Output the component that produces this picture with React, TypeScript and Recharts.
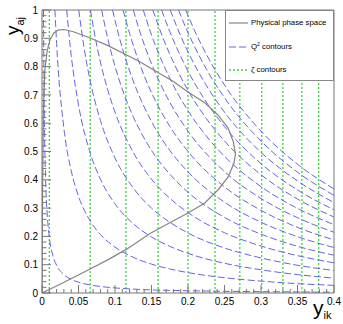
import React from 'react';
import { LineChart, Line, XAxis, YAxis, ReferenceLine } from 'recharts';

// ---- axis ticks / labels ----
const xMajorTicks = [0, 0.05, 0.1, 0.15, 0.2, 0.25, 0.3, 0.35, 0.4];
const xTickLabels = ['0', '0.05', '0.1', '0.15', '0.2', '0.25', '0.3', '0.35', '0.4'];
const yMajorTicks = [0, 0.1, 0.2, 0.3, 0.4, 0.5, 0.6, 0.7, 0.8, 0.9, 1];
const yTickLabels = ['0', '0.1', '0.2', '0.3', '0.4', '0.5', '0.6', '0.7', '0.8', '0.9', '1'];
const xAllTicks = Array.from({ length: 41 }, (_, i) => i / 100);
const yAllTicks = Array.from({ length: 51 }, (_, i) => i / 50);

// ---- series names ----
const phaseName = 'Physical phase space';
const q2Name = 'contours';
const zetaName = 'ζ contours';

// ---- zeta contours (vertical lines, y_ik values) ----
const zetaValues = [0.01, 0.066, 0.115, 0.159, 0.2, 0.237, 0.271, 0.301, 0.33, 0.356, 0.379];

// ---- physical phase space boundary (y_ik, y_aj) ----
const phaseSpace: [number, number][] = [
  [0, 0], [0.0003, 0.15], [0.0008, 0.35], [0.0015, 0.55], [0.0025, 0.7], [0.004, 0.79],
  [0.007, 0.855], [0.011, 0.895], [0.016, 0.918], [0.022, 0.929], [0.03, 0.931],
  [0.043, 0.923], [0.066, 0.901], [0.089, 0.876], [0.116, 0.841], [0.134, 0.817],
  [0.157, 0.782], [0.18, 0.747], [0.2, 0.71], [0.223, 0.672], [0.241, 0.629],
  [0.255, 0.583], [0.262, 0.535], [0.265, 0.49], [0.263, 0.459], [0.255, 0.41],
  [0.241, 0.364], [0.223, 0.318], [0.2, 0.283], [0.175, 0.248], [0.148, 0.21],
  [0.116, 0.155], [0.09, 0.117], [0.066, 0.085], [0.041, 0.052], [0.02, 0.025],
  [0.007, 0.009], [0, 0],
];

// ---- Q^2 contours (y_ik, y_aj) ----
const q2Contour01: [number, number][] = [
  [0.002, 1], [0.003, 0.665], [0.005, 0.398], [0.0075, 0.265], [0.01, 0.198], [0.015, 0.131],
  [0.02, 0.098], [0.03, 0.065], [0.04, 0.048], [0.05, 0.038], [0.065, 0.029], [0.08, 0.023],
  [0.1, 0.018], [0.15, 0.011], [0.2, 0.008], [0.3, 0.0047], [0.4, 0.003],
];
const q2Contour02: [number, number][] = [
  [0.0177, 1], [0.02, 0.882], [0.03, 0.582], [0.04, 0.432], [0.05, 0.342], [0.065, 0.259],
  [0.08, 0.207], [0.1, 0.162], [0.125, 0.126], [0.15, 0.102], [0.175, 0.085], [0.2, 0.072],
  [0.25, 0.054], [0.3, 0.042], [0.35, 0.033], [0.4, 0.027],
];
const q2Contour03: [number, number][] = [
  [0.0338, 1], [0.04, 0.84], [0.05, 0.665], [0.065, 0.503], [0.08, 0.4025], [0.1, 0.315],
  [0.125, 0.245], [0.15, 0.198], [0.175, 0.165], [0.2, 0.14], [0.25, 0.105], [0.3, 0.082],
  [0.35, 0.065], [0.4, 0.0525],
];
const q2Contour04: [number, number][] = [
  [0.0503, 1], [0.057, 0.877], [0.065, 0.762], [0.08, 0.61], [0.1, 0.477], [0.125, 0.371],
  [0.15, 0.3], [0.175, 0.25], [0.2, 0.212], [0.25, 0.159], [0.3, 0.124], [0.35, 0.098],
  [0.4, 0.0795],
];
const q2Contour05: [number, number][] = [
  [0.0663, 1], [0.073, 0.902], [0.08, 0.816], [0.09, 0.718], [0.1, 0.639], [0.125, 0.497],
  [0.15, 0.402], [0.175, 0.335], [0.2, 0.284], [0.25, 0.213], [0.3, 0.166], [0.35, 0.132],
  [0.4, 0.1065],
];
const q2Contour06: [number, number][] = [
  [0.0817, 1], [0.09, 0.9], [0.1, 0.801], [0.115, 0.685], [0.125, 0.623], [0.15, 0.504],
  [0.175, 0.42], [0.2, 0.356], [0.25, 0.267], [0.3, 0.208], [0.35, 0.165], [0.4, 0.1335],
];
const q2Contour07: [number, number][] = [
  [0.0967, 1], [0.105, 0.912], [0.115, 0.823], [0.125, 0.749], [0.15, 0.606], [0.175, 0.504],
  [0.2, 0.428], [0.25, 0.321], [0.3, 0.25], [0.35, 0.199], [0.4, 0.1605],
];
const q2Contour08: [number, number][] = [
  [0.1111, 1], [0.12, 0.917], [0.135, 0.801], [0.15, 0.708], [0.175, 0.589], [0.2, 0.5],
  [0.25, 0.375], [0.3, 0.292], [0.35, 0.232], [0.4, 0.1875],
];
const q2Contour09: [number, number][] = [
  [0.1251, 1], [0.135, 0.916], [0.15, 0.81], [0.165, 0.724], [0.175, 0.674], [0.2, 0.572],
  [0.25, 0.429], [0.3, 0.334], [0.35, 0.266], [0.4, 0.2145],
];
const q2Contour10: [number, number][] = [
  [0.1387, 1], [0.15, 0.912], [0.165, 0.815], [0.175, 0.759], [0.2, 0.644], [0.225, 0.555],
  [0.25, 0.483], [0.3, 0.376], [0.35, 0.299], [0.4, 0.2415],
];
const q2Contour11: [number, number][] = [
  [0.1518, 1], [0.165, 0.906], [0.175, 0.844], [0.2, 0.716], [0.225, 0.617], [0.25, 0.537],
  [0.3, 0.418], [0.35, 0.332], [0.4, 0.2685],
];
const q2Contour12: [number, number][] = [
  [0.1639, 1], [0.175, 0.924], [0.19, 0.836], [0.2, 0.784], [0.225, 0.675], [0.25, 0.588],
  [0.3, 0.457], [0.35, 0.364], [0.4, 0.294],
];
const q2Contour13: [number, number][] = [
  [0.1756, 1], [0.19, 0.908], [0.2, 0.852], [0.225, 0.734], [0.25, 0.639], [0.3, 0.497],
  [0.35, 0.396], [0.4, 0.3195],
];
const q2Contour14: [number, number][] = [
  [0.187, 1], [0.2, 0.92], [0.215, 0.84], [0.225, 0.792], [0.25, 0.69], [0.3, 0.537],
  [0.35, 0.427], [0.4, 0.345],
];
const q2Contour15: [number, number][] = [
  [0.1968, 1], [0.21, 0.922], [0.225, 0.844], [0.25, 0.735], [0.3, 0.572], [0.35, 0.455],
  [0.4, 0.3675],
];

const q2Contours = [
  q2Contour01, q2Contour02, q2Contour03, q2Contour04, q2Contour05, q2Contour06, q2Contour07,
  q2Contour08, q2Contour09, q2Contour10, q2Contour11, q2Contour12, q2Contour13, q2Contour14,
  q2Contour15,
];

const toPoints = (pairs: [number, number][]) => pairs.map(([x, y]) => ({ x, y }));

const FONT = '"Liberation Sans", Arial, Helvetica, sans-serif';
const AXIS = '#777777';
const BLUE = '#6464e6';
const GREEN = '#3cd83c';
const GREY = '#858585';

const XTick = (props: any) => {
  const { x, y, payload } = props;
  const v = payload.value;
  const idx = xMajorTicks.findIndex((t) => Math.abs(t - v) < 1e-6);
  const major = idx >= 0;
  return (
    <g>
      <line x1={x} y1={y} x2={x} y2={y - (major ? 8 : 4)} stroke={AXIS} strokeWidth={1} />
      {major && (
        <text x={x} y={y + 12} textAnchor="middle" fontSize={10} fontFamily={FONT} fill="#000">
          {xTickLabels[idx]}
        </text>
      )}
    </g>
  );
};

const YTick = (props: any) => {
  const { x, y, payload } = props;
  const v = payload.value;
  const idx = yMajorTicks.findIndex((t) => Math.abs(t - v) < 1e-6);
  const major = idx >= 0;
  return (
    <g>
      <line x1={x} y1={y} x2={x + (major ? 9 : 4.5)} y2={y} stroke={AXIS} strokeWidth={1} />
      {major && (
        <text x={x - 4} y={y + 3.6} textAnchor="end" fontSize={10} fontFamily={FONT} fill="#000">
          {yTickLabels[idx]}
        </text>
      )}
    </g>
  );
};

export default function App() {
  return (
    <div style={{ position: 'absolute', left: 0, top: 0, width: 343, height: 324, background: '#fff' }}>
      <div style={{ position: 'absolute', left: 0, top: 0 }}>
        <LineChart width={343} height={324} margin={{ top: 10, right: 9, bottom: 6, left: 2 }}>
          <XAxis
            dataKey="x"
            type="number"
            domain={[0, 0.4]}
            ticks={xAllTicks}
            interval={0}
            tick={<XTick />}
            tickLine={false}
            tickSize={0}
            tickMargin={0}
            height={25}
            axisLine={{ stroke: AXIS }}
            allowDataOverflow
          />
          <YAxis
            dataKey="y"
            type="number"
            domain={[0, 1]}
            ticks={yAllTicks}
            interval={0}
            tick={<YTick />}
            tickLine={false}
            tickSize={0}
            tickMargin={0}
            width={40}
            axisLine={{ stroke: AXIS }}
            allowDataOverflow
          />
          <ReferenceLine y={1} stroke={AXIS} strokeWidth={1} />
          <ReferenceLine x={0.4} stroke={AXIS} strokeWidth={1} />
          {zetaValues.map((z, i) => (
            <ReferenceLine
              key={'z' + i}
              x={z}
              stroke={GREEN}
              strokeWidth={1.3}
              strokeDasharray="2 2"
            />
          ))}
          {q2Contours.map((c, i) => (
            <Line
              key={'q' + i}
              name={q2Name}
              data={toPoints(c)}
              dataKey="y"
              type="monotone"
              stroke={BLUE}
              strokeWidth={1}
              strokeDasharray="7 3"
              dot={false}
              activeDot={false}
              isAnimationActive={false}
            />
          ))}
          <Line
            name={phaseName}
            data={toPoints(phaseSpace)}
            dataKey="y"
            type="linear"
            stroke={GREY}
            strokeWidth={1.2}
            dot={false}
            activeDot={false}
            isAnimationActive={false}
          />
        </LineChart>
      </div>

      {/* axis titles */}
      <svg
        width={343}
        height={324}
        style={{ position: 'absolute', left: 0, top: 0, pointerEvents: 'none' }}
      >
        <text transform="translate(19,35) rotate(-90)" fontFamily={FONT} fontSize={19} fill="#000">
          y
          <tspan fontSize={11} dy={5}>aj</tspan>
        </text>
        <text x={313} y={315} fontFamily={FONT} fontSize={21} fill="#000">
          y
          <tspan fontSize={11} dy={4}>ik</tspan>
        </text>
      </svg>

      {/* legend */}
      <div
        style={{
          position: 'absolute',
          left: 225,
          top: 10,
          width: 109,
          height: 71,
          background: '#fff',
          border: '1px solid #888',
          boxSizing: 'border-box',
          fontFamily: FONT,
          fontSize: 7.8,
          color: '#000',
        }}
      >
        {[
          { label: <span>{phaseName}</span>, stroke: GREY, dash: undefined as string | undefined, w: 1.2, top: 12 },
          {
            label: (
              <span>
                Q<span style={{ fontSize: 5, position: 'relative', top: -3 }}>2</span> {q2Name}
              </span>
            ),
            stroke: BLUE,
            dash: '7 3',
            w: 1,
            top: 35.5,
          },
          { label: <span>{zetaName}</span>, stroke: GREEN, dash: '2 2', w: 1.3, top: 59 },
        ].map((row, i) => (
          <div key={i} style={{ position: 'absolute', left: 0, top: row.top - 6, height: 12, width: 107 }}>
            <svg width={22} height={12} style={{ position: 'absolute', left: 3, top: 0 }}>
              <line x1={0} y1={6} x2={19} y2={6} stroke={row.stroke} strokeWidth={row.w} strokeDasharray={row.dash} />
            </svg>
            <div style={{ position: 'absolute', left: 25, top: 0, lineHeight: '12px', whiteSpace: 'nowrap' }}>
              {row.label}
            </div>
          </div>
        ))}
      </div>
    </div>
  );
}
